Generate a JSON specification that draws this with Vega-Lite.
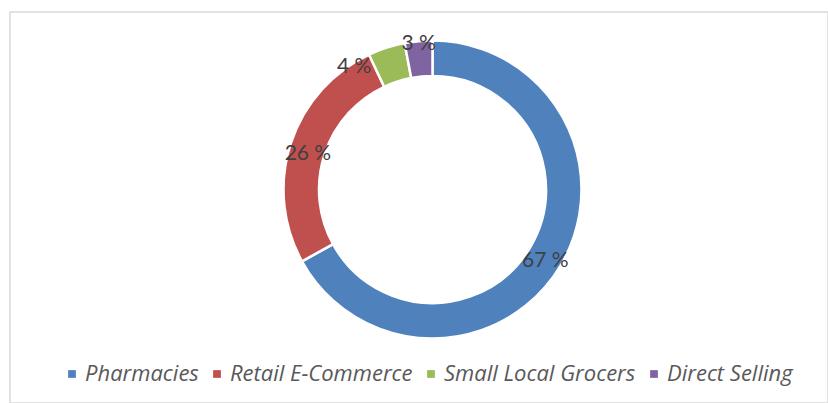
{
  "$schema": "https://vega.github.io/schema/vega-lite/v6.json",
  "autosize": "none",
  "width": 818,
  "height": 391,
  "padding": {"left": 10, "top": 12, "right": 0, "bottom": 0},
  "background": "white",
  "data": {"values": [
    {"idx": 1, "channel": "Pharmacies", "share": 67, "label": "67 %"},
    {"idx": 2, "channel": "Retail E-Commerce", "share": 26, "label": "26 %"},
    {"idx": 3, "channel": "Small Local Grocers", "share": 4, "label": "4 %"},
    {"idx": 4, "channel": "Direct Selling", "share": 3, "label": "3 %"}
  ]},
  "layer": [
    {"data": {"values": [{"frame": 1}]},
     "mark": {"type": "rect", "fill": null, "fillOpacity": 0, "stroke": "#d9d9d9", "strokeWidth": 1.5},
     "encoding": {}},
    {"mark": {"type": "arc", "outerRadius": 149, "innerRadius": 113.5, "stroke": "white", "strokeWidth": 2.5, "xOffset": 13.5, "yOffset": -18},
     "encoding": {
      "theta": {"field": "share", "type": "quantitative", "stack": true},
      "order": {"field": "idx", "type": "quantitative"},
      "color": {
        "field": "channel", "type": "nominal",
        "scale": {"domain": ["Pharmacies", "Retail E-Commerce", "Small Local Grocers", "Direct Selling"],
                  "range": ["#4F81BD", "#C0504D", "#9BBB59", "#8064A2"]},
        "legend": {
          "title": null, "orient": "none", "direction": "horizontal", "legendX": 51, "legendY": 351,
          "symbolType": "square", "symbolSize": 60, "symbolStrokeWidth": 0,
          "labelFont": "Open Sans", "labelFontStyle": "italic", "labelFontSize": 22, "labelColor": "#595959",
          "labelOffset": 2, "columnPadding": 7, "labelLimit": 400
        }
      }
    }},
    {"mark": {"type": "text", "radius": 131, "dy": 4.5, "font": "Lato", "fontSize": 21, "color": "#404040", "xOffset": 13.5, "yOffset": -18},
     "encoding": {
      "theta": {"field": "share", "type": "quantitative", "stack": true},
      "order": {"field": "idx", "type": "quantitative"},
      "text": {"condition": {"test": "datum.idx <= 2", "field": "label"}, "value": ""}}},
    {"mark": {"type": "text", "radius": 147, "dx": -33, "dy": 17, "font": "Lato", "fontSize": 21, "color": "#404040", "xOffset": 13.5, "yOffset": -18},
     "encoding": {
      "theta": {"field": "share", "type": "quantitative", "stack": true},
      "order": {"field": "idx", "type": "quantitative"},
      "text": {"condition": {"test": "datum.idx == 3", "field": "label"}, "value": ""}}},
    {"mark": {"type": "text", "radius": 148, "dy": 2, "font": "Lato", "fontSize": 21, "color": "#404040", "xOffset": 13.5, "yOffset": -18},
     "encoding": {
      "theta": {"field": "share", "type": "quantitative", "stack": true},
      "order": {"field": "idx", "type": "quantitative"},
      "text": {"condition": {"test": "datum.idx == 4", "field": "label"}, "value": ""}}}
  ]
}
